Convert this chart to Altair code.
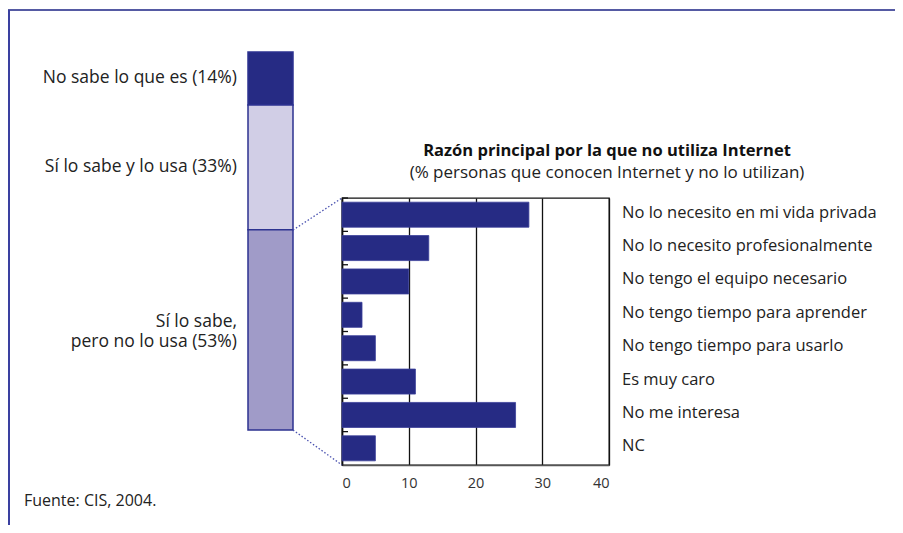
import altair as alt
import pandas as pd

# ---- data ----
razones = [
    "No lo necesito en mi vida privada",
    "No lo necesito profesionalmente",
    "No tengo el equipo necesario",
    "No tengo tiempo para aprender",
    "No tengo tiempo para usarlo",
    "Es muy caro",
    "No me interesa",
    "NC",
]
porcentajes = [28, 13, 10, 3, 5, 11, 26, 5]

grupos = ["No sabe lo que es (14%)", "Sí lo sabe y lo usa (33%)", "Sí lo sabe,\npero no lo usa (53%)"]
grupo_pct = [14, 33, 53]
grupo_orden = [2, 1, 0]
grupo_colores = ["#262b84", "#d1cee6", "#a09bc8"]

titulo = "Razón principal por la que no utiliza Internet"
subtitulo = "(% personas que conocen Internet y no lo utilizan)"
fuente = "Fuente: CIS, 2004."

NAVY = "#262b84"
FONT = "Open Sans"

df_r = pd.DataFrame({"razon": razones, "pct": porcentajes})
df_g = pd.DataFrame({"grupo": grupos, "pct": grupo_pct, "orden": grupo_orden, "color": grupo_colores})
one = pd.DataFrame({"k": [0]})

# ---- bar chart (main panel) ----
ybar = alt.Y(
    "razon:N", sort=razones,
    scale=alt.Scale(paddingInner=0.25, paddingOuter=0.125),
    axis=alt.Axis(title=None, labels=False, ticks=False, domainColor="#111", domainWidth=1.5),
)
xbar = alt.X(
    "pct:Q", scale=alt.Scale(domain=[0, 40], nice=False),
    axis=alt.Axis(title=None, values=[0, 10, 20, 30, 40], ticks=False, grid=True,
                  gridColor="#111", gridWidth=1.3, gridOpacity=1, domainColor="#555", domainWidth=1.5,
                  labelFont=FONT, labelFontSize=14.5, labelColor="#333", labelPadding=11),
)
bars = alt.Chart(df_r).mark_bar(color=NAVY, stroke="#3a3f99", strokeWidth=0.8).encode(x=xbar, y=ybar)
ticks = alt.Chart(df_r).mark_rule(color="#111", strokeWidth=1.3, yOffset=-4.17).encode(
    y=alt.Y("razon:N", sort=razones, bandPosition=0),
    x=alt.value(0), x2=alt.value(6),
)
right_labels = alt.Chart(df_r).mark_text(align="left", baseline="middle", font=FONT, fontSize=16.5,
                                         color="#222", dy=-2).encode(
    y=alt.Y("razon:N", sort=razones), x=alt.value(280), text="razon:N",
)
bar_panel = alt.layer(bars, ticks, right_labels)

# ---- stacked bar on the left ----
ys = alt.Scale(domain=[0, 100], range=[232, -146], nice=False)
stack = alt.Chart(df_g).transform_stack(
    stack="pct", groupby=[], as_=["y0", "y1"], sort=[alt.SortField("orden")]
).transform_calculate(
    ymid="(datum.y0 + datum.y1) / 2 + (length(split(datum.grupo, '\\n')) - 1) * 2.1"
)
stack_rect = stack.mark_rect(stroke="#2c3290", strokeWidth=1.5).encode(
    x=alt.value(-94), x2=alt.value(-49),
    y=alt.Y("y0:Q", scale=ys, axis=None), y2="y1:Q",
    color=alt.Color("color:N", scale=None),
)
stack_labels = stack.mark_text(align="right", baseline="middle", font=FONT, fontSize=17.5, color="#222",
                               lineBreak="\n", lineHeight=20).encode(
    x=alt.value(-105), y=alt.Y("ymid:Q", scale=ys, axis=None), text="grupo:N",
)
stack_panel = alt.layer(stack_rect, stack_labels)

# ---- decorations ----
dot1 = alt.Chart(one).mark_rule(color="#4a52b0", strokeDash=[1.5, 2], strokeWidth=1.3).encode(
    x=alt.value(-49), y=alt.value(32), x2=alt.value(0), y2=alt.value(0))
dot2 = alt.Chart(one).mark_rule(color="#4a52b0", strokeDash=[1.5, 2], strokeWidth=1.3).encode(
    x=alt.value(-49), y=alt.value(232), x2=alt.value(0), y2=alt.value(267))
frame_top = alt.Chart(one).mark_rule(color="#555aa3", strokeWidth=2).encode(
    x=alt.value(-334), x2=alt.value(561), y=alt.value(-188))
frame_left = alt.Chart(one).mark_rule(color="#3a40a0", strokeWidth=2).encode(
    x=alt.value(-333), y=alt.value(-188), y2=alt.value(335))
src = alt.Chart(one).mark_text(align="left", baseline="middle", font=FONT, fontSize=16, color="#222").encode(
    x=alt.value(-318), y=alt.value(303), text=alt.value(fuente))
title_t = alt.Chart(one).mark_text(align="center", baseline="middle", font=FONT, fontSize=16.5,
                                   fontWeight="bold", color="#111").encode(
    x=alt.value(265), y=alt.value(-47), text=alt.value(titulo))
subtitle_t = alt.Chart(one).mark_text(align="center", baseline="middle", font=FONT, fontSize=17,
                                      color="#222").encode(
    x=alt.value(265), y=alt.value(-25), text=alt.value(subtitulo))

chart = alt.layer(bar_panel, stack_panel, dot1, dot2, frame_top, frame_left, src, title_t, subtitle_t).resolve_scale(
    x="independent", y="independent"
).properties(
    width=267, height=267,
    autosize=alt.AutoSizeParams(type="none"),
    padding={"left": 334, "top": 190, "right": 286, "bottom": 60},
    background="white",
).configure_view(stroke="#111", strokeWidth=1.3)

chart.save("out.html", embed_options={"renderer": "svg", "actions": False})
